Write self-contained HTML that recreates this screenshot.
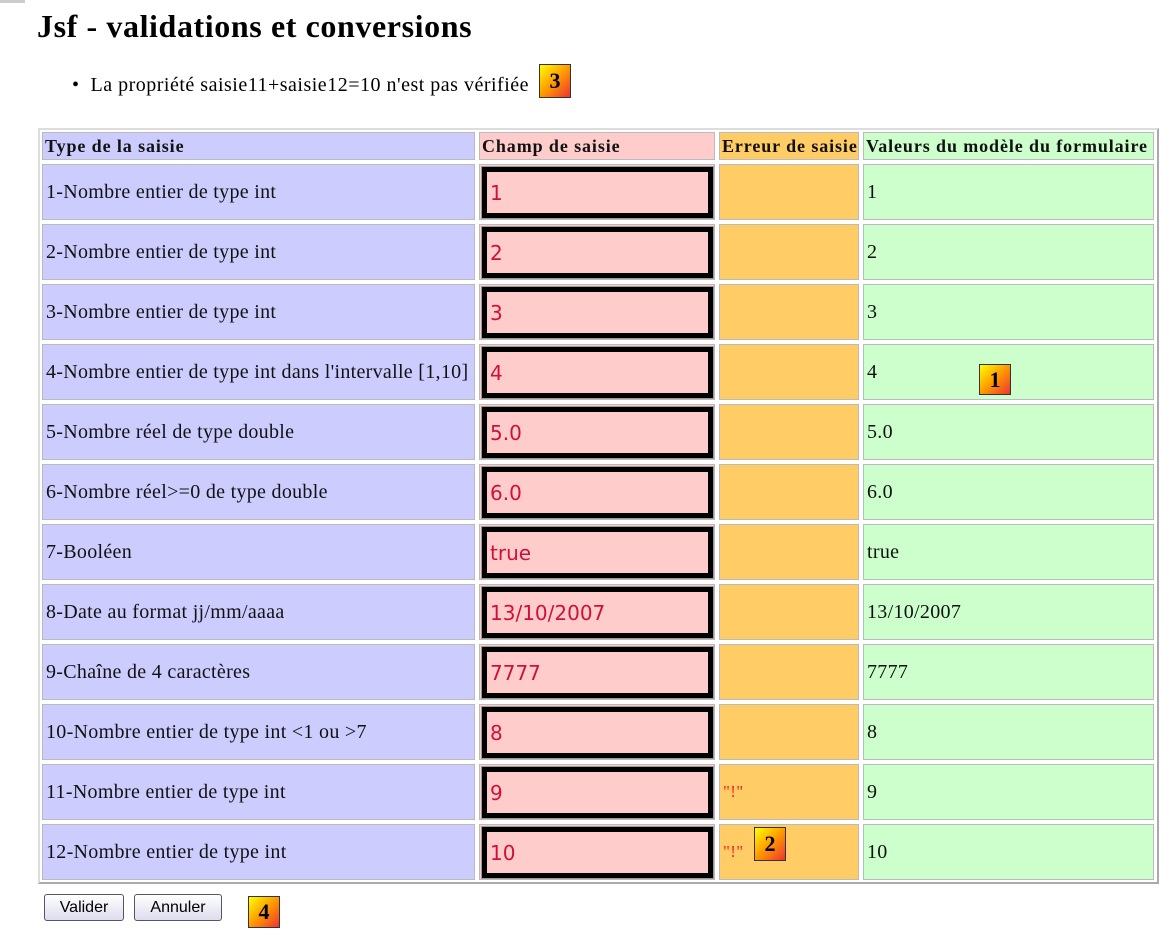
<!DOCTYPE html>
<html><head><meta charset="utf-8"><style>
body{margin:0;width:1164px;height:946px;background:#fff;position:relative;overflow:hidden;font-family:"Liberation Serif",serif;}
.a{position:absolute;box-sizing:border-box;}
.c{font-size:20px;letter-spacing:0.3px;color:#111;display:flex;align-items:center;padding-left:3px;white-space:nowrap;}
.h{font-weight:bold;font-size:18px;letter-spacing:0.9px;padding-left:2px;}
.inp{border:5px solid #000;background:#fcc;outline:1px solid #999;color:#d0103a;font-family:"DejaVu Sans",sans-serif;font-size:20px;display:flex;align-items:center;padding-left:3px;}
.b{background:linear-gradient(135deg,#ff0 0%,#f90 50%,#e33 100%);border:1px solid #333;font-weight:bold;font-size:22px;display:flex;align-items:center;justify-content:center;}
.btn{border:1px solid #556;border-radius:3px;background:linear-gradient(#fff,#dde);font-family:"Liberation Sans",sans-serif;font-size:16px;display:flex;align-items:center;justify-content:center;}
</style></head><body>
<div class="a" style="left:0;top:0;width:25px;height:3px;background:#ccc"></div>
<div class="a" style="left:37px;top:8px;font-size:32px;letter-spacing:0.6px;font-weight:bold;white-space:nowrap">Jsf - validations et conversions</div>
<div class="a" style="left:72px;top:74px;font-size:20px;letter-spacing:0.5px;white-space:nowrap">•&nbsp;&nbsp;La propriété saisie11+saisie12=10 n'est pas vérifiée</div>
<div class="a b" style="left:539px;top:64px;width:32px;height:34px">3</div>
<div class="a" style="left:38px;top:128px;width:1121px;height:756px;border:2px solid #ccc;border-color:#ddd #aaa #aaa #ddd;background:#fff"></div>
<div id="t"></div>
<div class="a btn" style="left:44px;top:894px;width:80px;height:27px">Valider</div>
<div class="a btn" style="left:134px;top:894px;width:88px;height:27px">Annuler</div>
<div class="a b" style="left:248px;top:896px;width:32px;height:32px">4</div>
<script>
var rows=[["1-Nombre entier de type int","1",""],["2-Nombre entier de type int","2",""],["3-Nombre entier de type int","3",""],["4-Nombre entier de type int dans l'intervalle [1,10]","4",""],["5-Nombre réel de type double","5.0",""],["6-Nombre réel>=0 de type double","6.0",""],["7-Booléen","true",""],["8-Date au format jj/mm/aaaa","13/10/2007",""],["9-Chaîne de 4 caractères","7777",""],["10-Nombre entier de type int <1 ou >7","8",""],["11-Nombre entier de type int","9","\"!\""],["12-Nombre entier de type int","10","\"!\""]];
var h='';
var cx=[42,479,719,863],cw=[433,236,140,291],col=['#ccf','#fcc','#fc6','#cfc'];
var hd=['Type de la saisie','Champ de saisie','Erreur de saisie','Valeurs du modèle du formulaire'];
for(var i=0;i<4;i++)h+='<div class="a c h" style="left:'+cx[i]+'px;top:132px;width:'+cw[i]+'px;height:28px;background:'+col[i]+';border:1px solid #bbb;overflow:hidden">'+hd[i]+'</div>';
rows.forEach(function(r,j){var y=164+j*60;
h+='<div class="a c" style="left:42px;top:'+y+'px;width:433px;height:56px;background:#ccf;border:1px solid #bbb;overflow:hidden">'+r[0].replace(/</g,'&lt;').replace(/>/g,'&gt;')+'</div>';
h+='<div class="a" style="left:479px;top:'+y+'px;width:236px;height:56px;background:#fcc;border:1px solid #bbb"></div>';
h+='<div class="a inp" style="left:482px;top:'+(y+3)+'px;width:231px;height:51px">'+r[1]+'</div>';
h+='<div class="a c" style="left:719px;top:'+y+'px;width:140px;height:56px;background:#fc6;border:1px solid #bbb;color:#f22;font-size:17px">'+r[2]+'</div>';
h+='<div class="a c" style="left:863px;top:'+y+'px;width:291px;height:56px;background:#cfc;border:1px solid #bbb;padding-left:3px">'+r[1]+'</div>';});
document.getElementById('t').innerHTML=h;
</script>
<div class="a b" style="left:979px;top:364px;width:32px;height:31px">1</div>
<div class="a b" style="left:754px;top:827px;width:32px;height:34px">2</div>
</body></html>
